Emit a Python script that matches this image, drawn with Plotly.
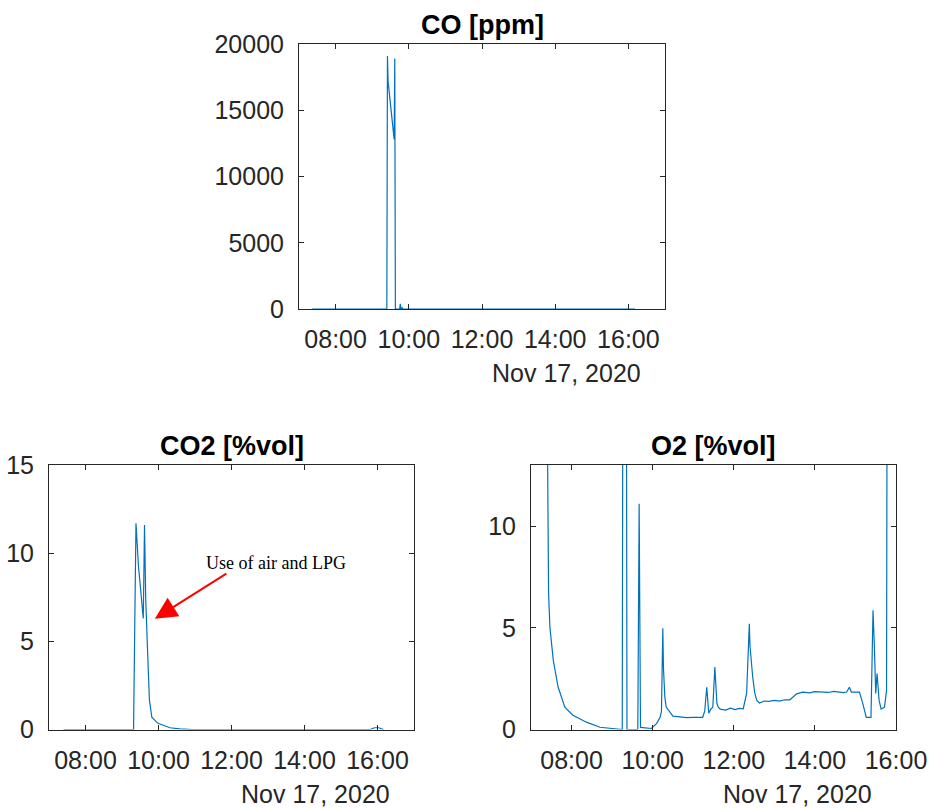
import plotly.graph_objects as go

DATE = "2020-11-17 "

# ---- CO [ppm] ----
co_time = ["07:21", "09:24", "09:25", "09:26", "09:36", "09:37", "09:38",
           "09:45", "09:46", "09:47", "09:49", "09:50", "16:11"]
co_val = [0, 0, 19100, 17200, 12800, 18900, 0,
          0, 400, 0, 100, 0, 0]

# ---- CO2 [%vol] ----
co2_time = ["07:24", "09:19", "09:21", "09:23", "09:27", "09:35", "09:37",
            "09:39", "09:42", "09:45", "09:49", "09:59", "10:19", "10:35",
            "10:55", "15:48", "15:55", "16:02", "16:10"]
co2_val = [0, 0, 6.0, 11.7, 9.3, 6.3, 11.6,
           7.4, 4.5, 1.7, 0.7, 0.35, 0.1, 0.03,
           0.0, 0.0, 0.1, 0.1, 0.0]

# ---- O2 [%vol] ----
o2_time = ["07:23", "07:25", "07:26", "07:28", "07:33", "07:40", "07:50",
           "08:02", "08:22", "08:42", "09:00", "09:15", "09:16", "09:21",
           "09:22", "09:38", "09:40", "09:42", "09:58", "10:06", "10:11",
           "10:13", "10:15", "10:16", "10:18", "10:20", "10:30", "10:40",
           "10:50", "11:00", "11:14", "11:17", "11:20", "11:23", "11:26",
           "11:29", "11:32", "11:35", "11:37", "11:40", "11:48", "11:55",
           "12:02", "12:08", "12:14", "12:19", "12:22", "12:23", "12:24",
           "12:26", "12:28", "12:31", "12:34", "12:38", "12:45", "12:52",
           "13:00", "13:08", "13:15", "13:23", "13:33", "13:42", "13:52",
           "14:00", "14:10", "14:20", "14:28", "14:35", "14:42", "14:47",
           "14:51", "14:54", "15:06", "15:11", "15:16", "15:23", "15:26",
           "15:28", "15:30", "15:32", "15:35", "15:38", "15:43", "15:46",
           "15:47", "16:05"]
o2_val = [20.5, 10.0, 6.7, 5.0, 3.4, 2.1, 1.1,
          0.7, 0.36, 0.11, 0.03, 0.0, 20.5, 20.5,
          0.0, 0.0, 11.1, 0.1, 0.05, 0.3, 0.6,
          0.9, 4.97, 3.0, 1.6, 1.1, 0.66, 0.62,
          0.58, 0.6, 0.6, 0.9, 2.08, 0.8, 1.0,
          1.1, 3.07, 1.3, 1.1, 1.0, 0.95, 1.05,
          0.98, 1.04, 1.02, 1.77, 4.5, 5.2, 4.1,
          3.2, 2.58, 1.8, 1.43, 1.3, 1.4, 1.38,
          1.43, 1.4, 1.46, 1.46, 1.75, 1.84, 1.8,
          1.86, 1.83, 1.82, 1.87, 1.85, 1.81, 1.84,
          2.08, 1.84, 1.84, 1.26, 0.6, 0.6, 5.86,
          4.1, 1.77, 2.75, 1.43, 1.0, 1.1, 1.92,
          20.5, 20.5]

hour_ticks = ["08:00", "10:00", "12:00", "14:00", "16:00"]
co_yticks = [0, 5000, 10000, 15000, 20000]
co2_yticks = [0, 5, 10, 15]
o2_yticks = [0, 5, 10]

titles = ["CO [ppm]", "CO2 [%vol]", "O2 [%vol]"]
date_label = "Nov 17, 2020"
note = "Use of air and LPG"

LINE = "#0072BD"
AX = "#262626"
FONT = "Liberation Sans, Arial, sans-serif"
W, H = 930, 809

def px(x0, x1):
    return [x0 / W, x1 / W]

def py(top, bottom):
    return [1 - bottom / H, 1 - top / H]

dom = {
    "co": (px(299, 665), py(44, 309)),
    "co2": (px(49, 414), py(465, 729.5)),
    "o2": (px(531, 896), py(465, 729.5)),
}

fig = go.Figure()

def full(ts):
    return [DATE + t for t in ts]

fig.add_trace(go.Scatter(x=full(co_time), y=co_val, mode="lines",
                         line=dict(color=LINE, width=1.2), xaxis="x", yaxis="y",
                         showlegend=False))
fig.add_trace(go.Scatter(x=full(co2_time), y=co2_val, mode="lines",
                         line=dict(color=LINE, width=1.2), xaxis="x2", yaxis="y2",
                         showlegend=False))
fig.add_trace(go.Scatter(x=full(o2_time), y=o2_val, mode="lines",
                         line=dict(color=LINE, width=1.2), xaxis="x3", yaxis="y3",
                         showlegend=False))

def xaxis(d, rng_end, anchor):
    return dict(domain=d, anchor=anchor, type="date", automargin=False,
                range=[DATE + "07:00", DATE + rng_end],
                tickmode="array", tickvals=full(hour_ticks), ticktext=hour_ticks,
                showline=True, linecolor=AX, linewidth=1, mirror="ticks",
                ticks="inside", ticklen=5, tickcolor=AX, tickwidth=1,
                showgrid=False, zeroline=False, ticklabelstandoff=8,
                tickfont=dict(family=FONT, size=25, color=AX))

def yaxis(d, rng, vals, anchor):
    return dict(domain=d, anchor=anchor, range=rng, automargin=False,
                tickmode="array", tickvals=vals, ticktext=[str(v) for v in vals],
                showline=True, linecolor=AX, linewidth=1, mirror="ticks",
                ticks="inside", ticklen=5, tickcolor=AX, tickwidth=1,
                showgrid=False, zeroline=False, ticklabelstandoff=9,
                tickfont=dict(family=FONT, size=25, color=AX))

fig.update_layout(
    width=W, height=H, autosize=False,
    margin=dict(l=0, r=0, t=0, b=0, pad=0),
    paper_bgcolor="white", plot_bgcolor="white",
    xaxis=xaxis(dom["co"][0], "17:00", "y"),
    yaxis=yaxis(dom["co"][1], [0, 20000], co_yticks, "x"),
    xaxis2=xaxis(dom["co2"][0], "17:00", "y2"),
    yaxis2=yaxis(dom["co2"][1], [0, 15], co2_yticks, "x2"),
    xaxis3=xaxis(dom["o2"][0], "16:00", "y3"),
    yaxis3=yaxis(dom["o2"][1], [0, 13], o2_yticks, "x3"),
)

anns = []
for key, title in zip(["co", "co2", "o2"], titles):
    xd, yd = dom[key]
    anns.append(dict(text="<b>" + title + "</b>", xref="paper", yref="paper",
                     x=(xd[0] + xd[1]) / 2, y=yd[1], xanchor="center", yanchor="bottom",
                     yshift=2, showarrow=False,
                     font=dict(family=FONT, size=27, color="black")))
    anns.append(dict(text=date_label, xref="paper", yref="paper",
                     x=xd[1], y=yd[0], xanchor="right", yanchor="middle",
                     xshift=-22, yshift=-64, showarrow=False,
                     font=dict(family=FONT, size=25, color=AX)))

anns.append(dict(text=note, xref="paper", yref="paper",
                 x=276 / W, y=1 - 563 / H, xanchor="center", yanchor="middle",
                 showarrow=False,
                 font=dict(family="Liberation Serif, Times New Roman, serif",
                           size=18, color="black")))
anns.append(dict(text="", xref="x2", yref="y2",
                 x=DATE + "09:54", y=6.28, ax=73, ay=-46,
                 showarrow=True, arrowhead=2, arrowsize=2.2, arrowwidth=2,
                 arrowcolor="#FF0000"))

fig.update_layout(annotations=anns)
fig.write_html("out.html")
